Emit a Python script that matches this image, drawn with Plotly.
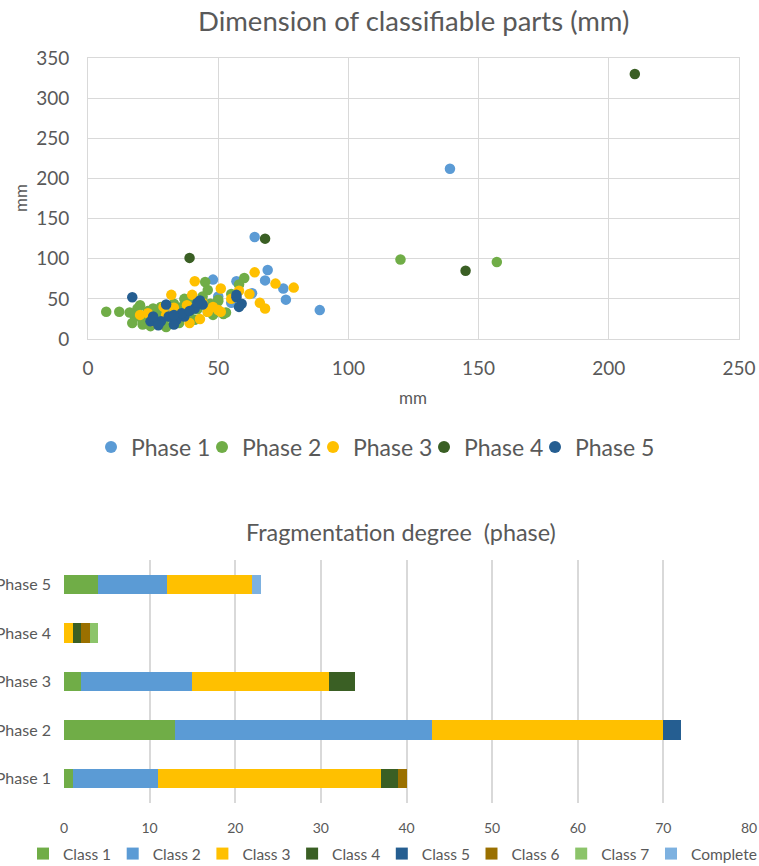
import plotly.graph_objects as go

# ---------------- Data ----------------
phase_names = ["Phase 1", "Phase 2", "Phase 3", "Phase 4", "Phase 5"]

p1_x = [139, 64, 69, 68, 48, 57, 75, 76, 63, 89, 46, 50, 42, 30, 26, 36, 55, 22]
p1_y = [212, 127, 86, 73, 74, 72, 63, 49, 57, 36, 43, 53, 40, 35, 25, 30, 45, 28]

p2_x = [120, 157, 60, 45, 46, 50, 52, 7, 12, 17, 18, 19, 20, 21, 22, 23, 19, 24, 26, 27,
        28, 29, 31, 33, 34, 36, 38, 39, 40, 42, 44, 46, 48, 50, 47, 35, 25, 21, 53, 41,
        16, 30, 37, 55, 58]
p2_y = [99, 96, 76, 71, 61, 49, 31, 34, 34, 20, 28, 38, 42, 18, 24, 35, 30, 16, 22, 30,
        40, 18, 27, 44, 36, 40, 30, 28, 46, 37, 53, 34, 30, 47, 44, 20, 38, 22, 33, 24,
        33, 15, 50, 56, 68]

p3_x = [64, 41, 72, 79, 51, 58, 32, 66, 68, 50, 33, 23, 30, 39, 46, 51, 40, 38, 43, 25,
        29, 35, 55, 62, 27, 20, 48, 44]
p3_y = [83, 72, 69, 64, 63, 60, 55, 45, 38, 36, 39, 32, 30, 20, 34, 34, 55, 42, 25, 22,
        40, 28, 50, 56, 18, 30, 40, 45]

p4_x = [210, 68, 39, 145]
p4_y = [330, 125, 101, 85]

p5_x = [17, 57, 59, 58, 43, 44, 41, 37, 34, 33, 30, 24, 28, 31, 27, 57, 36, 39, 25, 33, 42]
p5_y = [52, 52, 44, 40, 48, 43, 38, 28, 24, 18, 43, 22, 22, 28, 17, 55, 32, 35, 28, 30, 45]

phase_colors = ["#5B9BD5", "#70AD47", "#FFC000", "#3A5F24", "#255E91"]

bar_phases = ["Phase 1", "Phase 2", "Phase 3", "Phase 4", "Phase 5"]
class_names = ["Class 1", "Class 2", "Class 3", "Class 4", "Class 5", "Class 6", "Class 7", "Complete"]
class_1 = [1, 13, 2, 0, 4]
class_2 = [10, 30, 13, 0, 8]
class_3 = [26, 27, 16, 1, 10]
class_4 = [2, 0, 3, 1, 0]
class_5 = [0, 2, 0, 0, 0]
class_6 = [1, 0, 0, 1, 0]
class_7 = [0, 0, 0, 1, 0]
complete = [0, 0, 0, 0, 1]
class_values = [class_1, class_2, class_3, class_4, class_5, class_6, class_7, complete]
class_colors = ["#70AD47", "#5B9BD5", "#FFC000", "#3A5F24", "#255E91", "#9A7000", "#8CC46A", "#7DB1E0"]

# ---------------- Figure ----------------
FONT = "Lato, Carlito, Liberation Sans, sans-serif"
TXT = "#595959"
GRID = "#D9D9D9"
W, H = 759, 866

fig = go.Figure()

scatter_sets = [(p1_x, p1_y), (p2_x, p2_y), (p3_x, p3_y), (p4_x, p4_y), (p5_x, p5_y)]
for name, (xs, ys), col in zip(phase_names, scatter_sets, phase_colors):
    fig.add_trace(go.Scatter(
        x=xs, y=ys, mode="markers", name=name,
        marker=dict(color=col, size=10.5, line=dict(width=0)),
        xaxis="x", yaxis="y", legend="legend",
    ))
# empty spacer entry so the last legend label is not clipped
fig.add_trace(go.Scatter(
    x=[None], y=[None], mode="markers", name=" ", hoverinfo="skip",
    marker=dict(color="rgba(0,0,0,0)", size=1), xaxis="x", yaxis="y", legend="legend",
))

for name, vals, col in zip(class_names, class_values, class_colors):
    fig.add_trace(go.Bar(
        y=bar_phases, x=vals, orientation="h", name=name,
        marker=dict(color=col, line=dict(width=0)),
        width=0.4, xaxis="x2", yaxis="y2",
        legend="legend3" if name == "Complete" else "legend2",
    ))

def px(x):
    return x / W

def py(y):
    return (H - y) / H

fig.update_layout(
    width=W, height=H,
    margin=dict(l=0, r=0, t=0, b=0, autoexpand=False),
    paper_bgcolor="white", plot_bgcolor="white",
    font=dict(family=FONT, color=TXT),
    barmode="stack",
    xaxis=dict(
        domain=[px(88), px(739)], range=[0, 250], dtick=50, anchor="y",
        showgrid=True, gridcolor=GRID, gridwidth=1, zeroline=False,
        showline=True, linecolor=GRID, mirror=True, automargin=False,
        tickfont=dict(size=19, color=TXT), ticks="", ticklabelstandoff=12,
        fixedrange=True,
    ),
    yaxis=dict(
        domain=[py(339), py(58)], range=[0, 350], dtick=50, anchor="x",
        showgrid=True, gridcolor=GRID, gridwidth=1, zeroline=False,
        showline=True, linecolor=GRID, mirror=True, automargin=False,
        tickfont=dict(size=19, color=TXT), ticks="", ticklabelstandoff=14,
        fixedrange=True,
    ),
    xaxis2=dict(
        domain=[px(64), px(749)], range=[0, 80], dtick=10, anchor="y2",
        showgrid=True, gridcolor=GRID, gridwidth=1.5, zeroline=False,
        showline=False, tickfont=dict(size=14, color=TXT), ticks="",
        ticklabelstandoff=15, fixedrange=True, automargin=False,
    ),
    yaxis2=dict(
        domain=[py(803), py(560)], anchor="x2", type="category",
        showgrid=False, zeroline=False, showline=False,
        tickfont=dict(size=16, color=TXT), ticks="", ticklabelstandoff=12,
        automargin=False, fixedrange=True,
    ),
    legend=dict(
        orientation="h", x=px(91), xanchor="left", y=py(447), yanchor="middle",
        font=dict(size=23, color=TXT), itemsizing="constant",
        traceorder="normal", itemwidth=30, entrywidth=66, bgcolor="rgba(0,0,0,0)",
    ),
    legend2=dict(
        orientation="h", x=px(23), xanchor="left", y=py(854), yanchor="middle",
        font=dict(size=15.5, color=TXT), traceorder="normal", itemwidth=30,
        entrywidth=44.7, bgcolor="rgba(0,0,0,0)",
    ),
    legend3=dict(
        orientation="h", x=px(651), xanchor="left", y=py(854), yanchor="middle",
        font=dict(size=15.5, color=TXT), traceorder="normal", itemwidth=30,
        bgcolor="rgba(0,0,0,0)",
    ),
    annotations=[
        dict(text="Dimension of classifiable parts (mm)", x=px(413), y=py(20),
             xref="paper", yref="paper", showarrow=False, xanchor="center", yanchor="middle",
             font=dict(size=27.5, color=TXT)),
        dict(text="mm", x=px(413), y=py(398), xref="paper", yref="paper", showarrow=False,
             xanchor="center", yanchor="middle", font=dict(size=17, color=TXT)),
        dict(text="mm", x=px(20), y=py(198), xref="paper", yref="paper", showarrow=False,
             xanchor="center", yanchor="middle", textangle=-90, font=dict(size=17, color=TXT)),
        dict(text="Fragmentation degree  (phase)", x=px(401), y=py(532), xref="paper",
             yref="paper", showarrow=False, xanchor="center", yanchor="middle",
             font=dict(size=23.4, color=TXT)),
    ],
)

fig.write_html(
    "out.html",
    config={"displayModeBar": False},
    post_script="document.body.style.margin='0';document.body.style.overflow='hidden';",
)
